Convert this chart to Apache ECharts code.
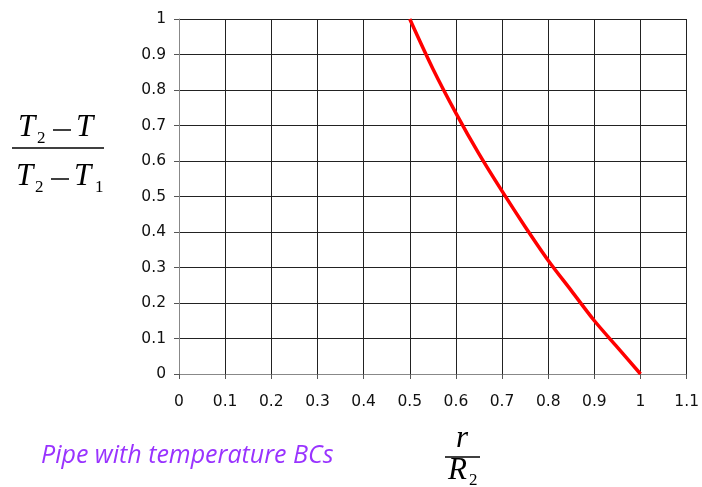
<!DOCTYPE html>
<html>
<head>
<meta charset="utf-8">
<script src="https://cdn.jsdelivr.net/npm/echarts@6/dist/echarts.min.js"></script>
<style>
	html, body { margin: 0; padding: 0; background: #fff; }
	#chart { width: 702px; height: 487px; }
</style>
</head>
<body>
<div id="chart"></div>
<script>
	// r / R2 values and temperature ratio
	const rRatio = [0.5, 0.55, 0.6, 0.65, 0.7, 0.75, 0.8, 0.85, 0.9, 0.95, 1.0]
	const tRatio = [1.0, 0.86, 0.735, 0.62, 0.515, 0.415, 0.32, 0.235, 0.15, 0.075, 0]
	const caption = 'Pipe with temperature BCs'

	const serif = '"Liberation Serif", "DejaVu Serif", serif'
	const sans = '"DejaVu Sans", "Liberation Sans", sans-serif'

	const chart = echarts.init(document.getElementById('chart'))

	function txt(x, y, s, size, italic) {
		return {
			type: 'text', x: x, y: y,
			style: {
				text: s, fill: '#000',
				font: (italic ? 'italic ' : '') + size + 'px ' + serif,
				textAlign: 'left', textVerticalAlign: 'middle'
			}
		}
	}
	function bar(x1, x2, y, w) {
		return { type: 'line', shape: { x1: x1, y1: y, x2: x2, y2: y }, style: { stroke: '#000', lineWidth: w } }
	}

	let option = {
		animation: false,
		grid: { left: 179, right: 12, top: 19, bottom: 113 },
		xAxis: {
			type: 'value', min: 0, max: 1.1, interval: 0.1,
			axisLine: { onZero: false, lineStyle: { color: '#888', width: 1 } },
			axisTick: { show: true, length: 5, lineStyle: { color: '#555' } },
			axisLabel: { color: '#111', fontSize: 15.5, fontFamily: sans, margin: 20,
				formatter: v => String(Math.round(v * 10) / 10) },
			splitLine: { show: true, lineStyle: { color: '#222', width: 1 } }
		},
		yAxis: {
			type: 'value', min: 0, max: 1, interval: 0.1,
			axisLine: { show: true, lineStyle: { color: '#888', width: 1 } },
			axisTick: { show: true, length: 5, lineStyle: { color: '#555' } },
			axisLabel: { color: '#111', fontSize: 15.5, fontFamily: sans, margin: 13,
				formatter: v => String(Math.round(v * 10) / 10) },
			splitLine: { show: true, lineStyle: { color: '#222', width: 1 } }
		},
		series: [{
			type: 'line',
			data: rRatio.map((r, i) => [r, tRatio[i]]),
			smooth: 0.3,
			showSymbol: false,
			lineStyle: { color: '#ff0000', width: 3.5 },
			z: 5
		}],
		graphic: [
			// y label: (T2 - T) / (T2 - T1)
			txt(18, 128, 'T', 31, true),
			txt(37, 139, '2', 17, false),
			bar(53, 71, 130, 1.5),
			txt(76, 128, 'T', 31, true),
			bar(12, 104, 148, 1.5),
			txt(16, 177, 'T', 31, true),
			txt(35, 188, '2', 17, false),
			bar(51, 69, 179, 1.5),
			txt(74, 177, 'T', 31, true),
			txt(95, 188, '1', 17, false),
			// x label: r / R2
			txt(456, 439, 'r', 31, true),
			bar(445, 480, 457, 1.5),
			txt(448, 471, 'R', 31, true),
			txt(469, 481, '2', 17, false),
			{
				type: 'text', x: 41, y: 456,
				style: {
					text: caption, fill: '#9933ff',
					font: 'italic 25px "Open Sans", "Liberation Sans", sans-serif',
					textAlign: 'left', textVerticalAlign: 'middle'
				}
			}
		]
	}

	chart.setOption(option)
</script>
</body>
</html>
